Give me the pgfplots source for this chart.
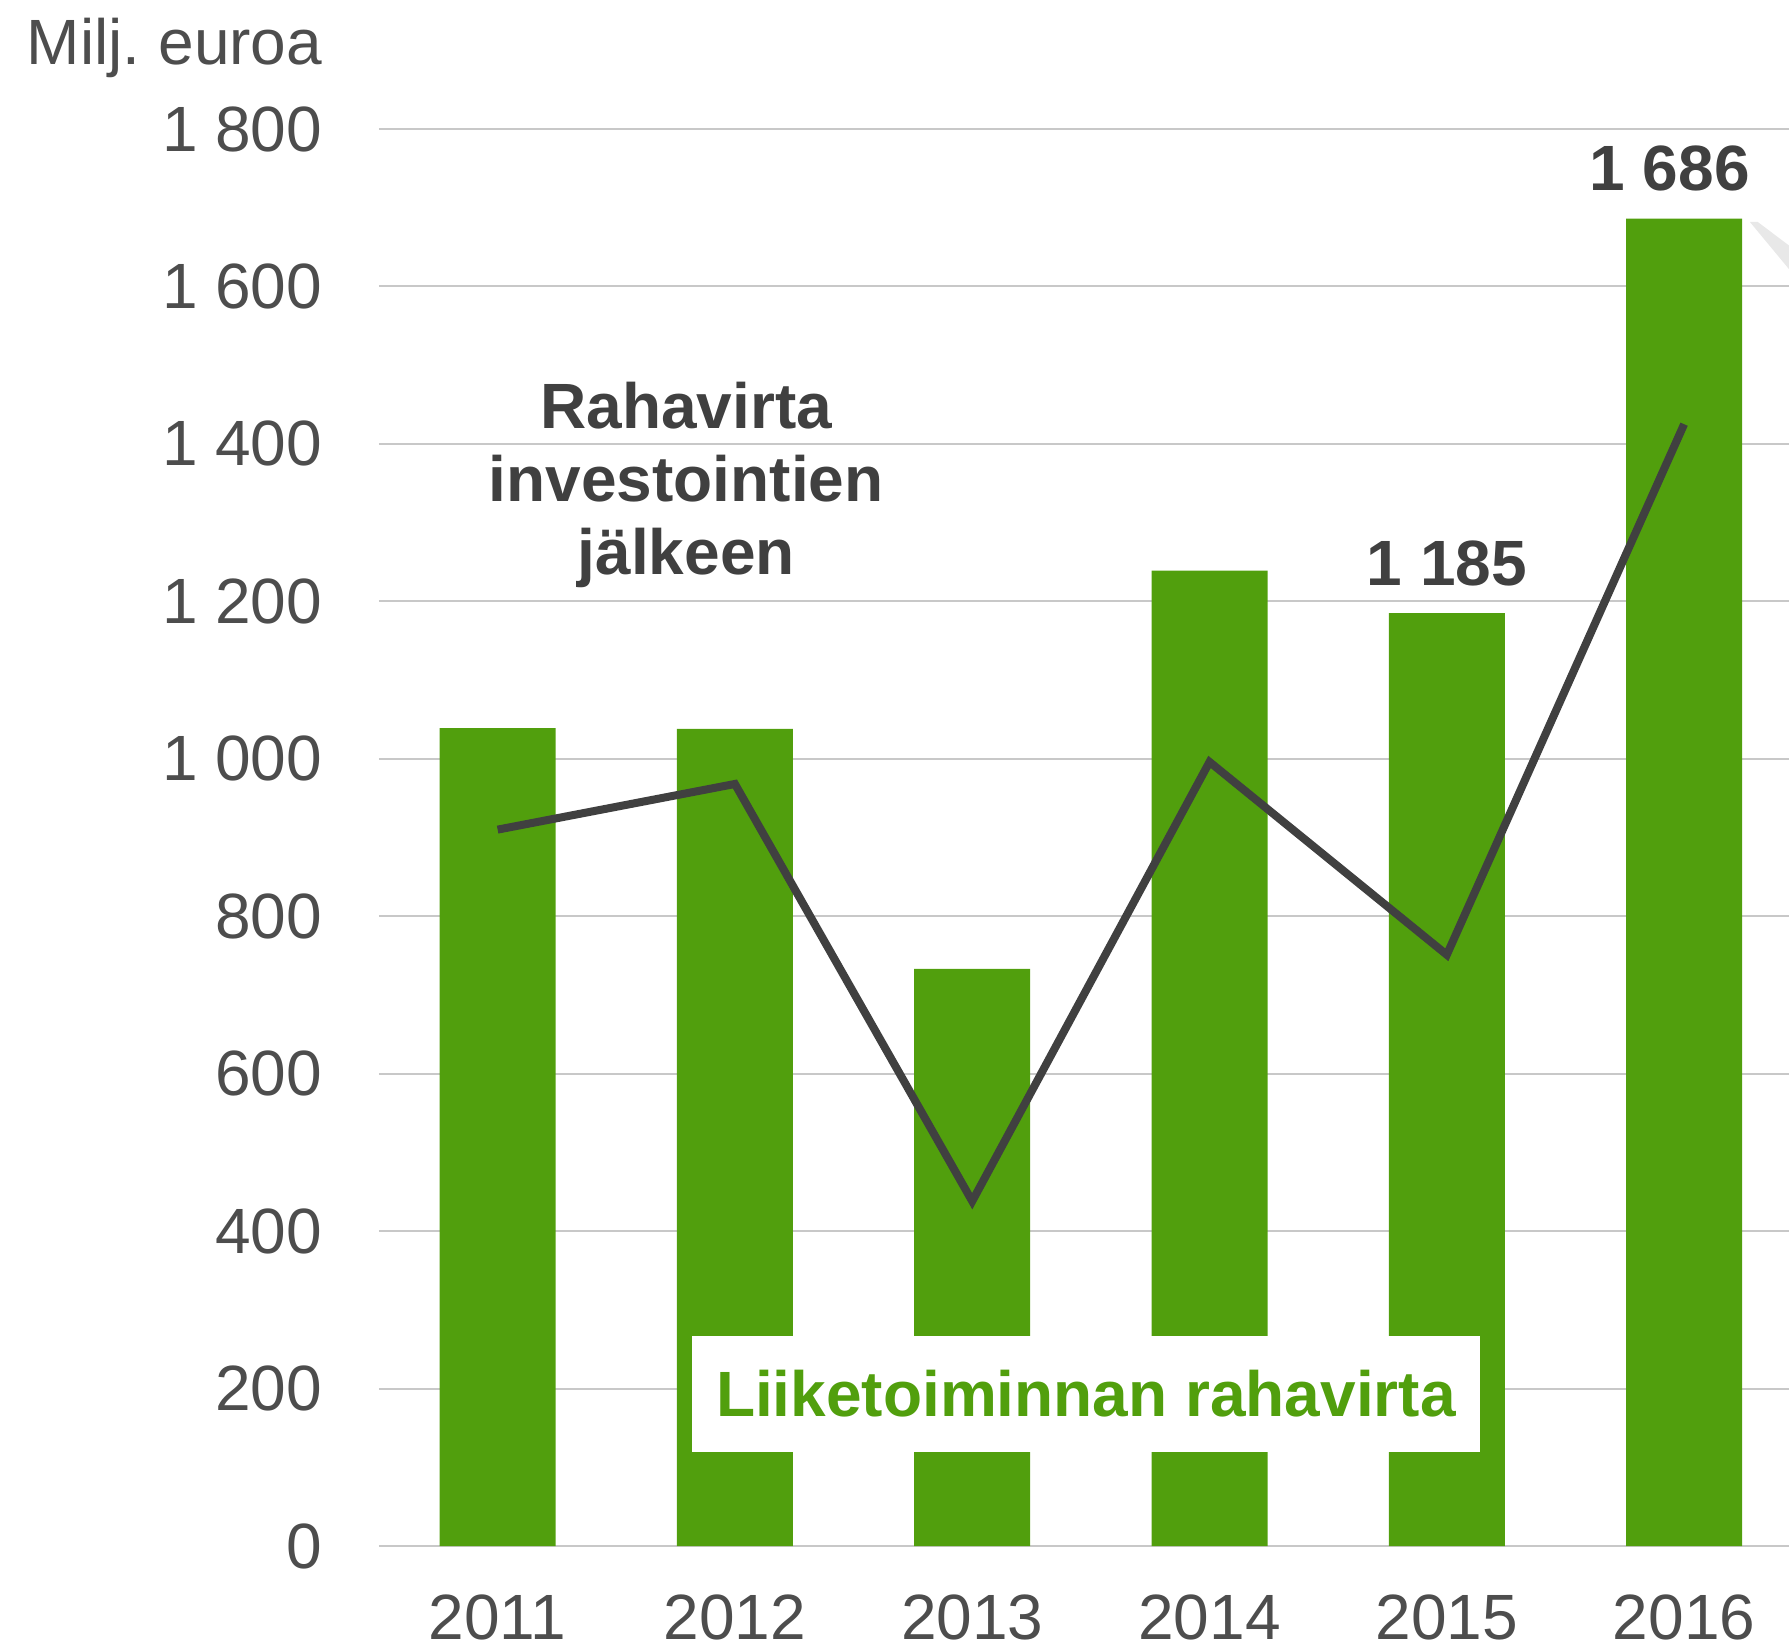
\documentclass[border=0pt]{standalone}
\usepackage{fontspec}
\setmainfont{Liberation Sans}
\usepackage{pgfplots}
\pgfplotsset{compat=1.18}

\definecolor{barGreen}{RGB}{81,159,13}
\definecolor{lineGray}{RGB}{64,64,64}
\definecolor{txtGray}{RGB}{77,77,77}
\definecolor{gridGray}{RGB}{200,200,200}

\pgfplotsset{barlabel/.style={draw=none, mark=none, point meta=y,
    nodes near coords,
    nodes near coords style={anchor=base, yshift=7pt, inner sep=0pt,
      font=\fontsize{16}{19}\selectfont\bfseries, text=lineGray,
      /pgf/number format/1000 sep={\ }}}}

\begin{document}
\begin{tikzpicture}
\begin{axis}[
  scale only axis,
  width=352.5pt, height=354.25pt,
  xmin=-0.5, xmax=5.442,
  ymin=0, ymax=1800,
  xtick={0,...,5},
  xticklabels={2011,2012,2013,2014,2015,2016},
  ytick={0,200,...,1800},
  axis line style={draw=none},
  major tick length=0pt,
  ymajorgrids,
  grid style={gridGray, line width=0.5pt},
  /pgf/number format/assume math mode=true,
  /pgf/number format/1000 sep={\ },
  tick label style={font=\fontsize{16}{19}\selectfont, text=txtGray, inner sep=0pt},
  yticklabel style={anchor=east, xshift=-14pt},
  xticklabel style={anchor=north, yshift=-12pt},
  clip=false,
]
  % liiketoiminnan rahavirta
  \addplot[ybar, bar width=29pt, fill=barGreen, draw=none]
    coordinates {(0,1039) (1,1038) (2,733) (3,1239) (4,1185) (5,1686)};

  % labels on 2015 and 2016
  \addplot[barlabel] coordinates {(4,1185)};
  \addplot[barlabel, nodes near coords style={xshift=-3.6pt}] coordinates {(5,1686)};

  % rahavirta investointien jalkeen
  \addplot[lineGray, line width=2pt, mark=none]
    coordinates {(0,910) (1,968) (2,438) (3,996) (4,751) (5,1425)};

  \fill[gray!18] (axis cs:5.277,1682) -- (axis cs:5.31,1682)
    -- (axis cs:5.442,1652) -- (axis cs:5.442,1622) -- cycle;

  \node[align=center, font=\fontsize{16}{18.25}\selectfont\bfseries, text=lineGray]
    at (axis cs:0.795,1348) {Rahavirta\\investointien\\jälkeen};

  \node[fill=white, minimum width=197pt, minimum height=29pt, inner sep=0pt,
    font=\fontsize{16}{19}\selectfont\bfseries, text=barGreen]
    at (axis cs:2.479,193) {Liiketoiminnan rahavirta};
\end{axis}
\node[anchor=base east, inner sep=0pt, font=\fontsize{16}{19}\selectfont, text=txtGray]
  at ([xshift=-14pt, yshift=16pt]current axis.north west) {Milj.\ euroa};
\pgfresetboundingbox
\path[use as bounding box] ([xshift=-94.75pt, yshift=-26.25pt]current axis.south west)
  rectangle ([yshift=32.25pt]current axis.north east);
\end{tikzpicture}
\end{document}
